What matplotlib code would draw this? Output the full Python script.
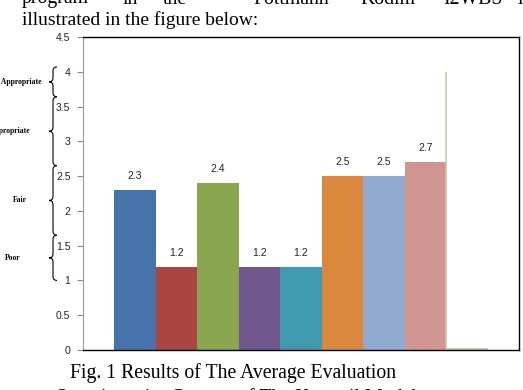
import matplotlib
matplotlib.use("Agg")
import matplotlib.pyplot as plt
from matplotlib.path import Path
from matplotlib.patches import PathPatch
from matplotlib.transforms import blended_transform_factory

# data
averages = [2.3, 1.2, 2.4, 1.2, 1.2, 2.5, 2.5, 2.7, 0.03]
bar_labels = ['2.3', '1.2', '2.4', '1.2', '1.2', '2.5', '2.5', '2.7', '']
bar_colors = ['#4674AA', '#A94543', '#8AA64E', '#6F578E', '#4199AF',
              '#DA883E', '#91A8CF', '#D09491', '#C6CBA5']
yticks = [0, 0.5, 1, 1.5, 2, 2.5, 3, 3.5, 4, 4.5]
ytick_labels = ['0', '0.5', '1', '1.5', '2', '2.5', '3', '3.5', '4', '4.5']

# criteria braces on the left: (top, bottom, label)
criteria = [(4.07, 3.64, 'Very Appropriate'),
            (3.64, 2.65, 'Appropriate'),
            (2.65, 1.65, 'Fair'),
            (1.65, 1.0, 'Poor')]
label_right_px = [41, 31, 27, 21]

W, H = 523, 390
fig = plt.figure(figsize=(W / 100, H / 100), dpi=100)
ax = fig.add_axes([83 / W, 40 / H, 436 / W, 313 / H])

x = list(range(len(averages)))
ax.bar(x, averages, width=1.0, color=bar_colors)
# thin stray line at the left of the last bar
ax.vlines(x[-1] - 0.5, 0, 4.0, color='#C6CBA5', lw=1.2)

for xi, v, lab in zip(x, averages, bar_labels):
    if lab:
        ax.annotate(lab, (xi, v), xytext=(0, 10), textcoords='offset points',
                    ha='center', va='center', fontsize=7.5, color='#222222',
                    family='Liberation Sans')

ax.set_xlim(-1.25, 9.25)
ax.set_ylim(0, 4.5)
ax.set_yticks(yticks)
ax.set_yticklabels(ytick_labels, fontsize=7.5, family='Liberation Sans', color='#222222')
ax.set_xticks([])
ax.tick_params(axis='y', length=4, width=0.8, color='#888888', pad=5)
ax.spines['left'].set_color('#999999')
for s in ['top', 'right', 'bottom']:
    ax.spines[s].set_color('black')
    ax.spines[s].set_linewidth(1.0)

# curly braces, x in figure fraction, y in data units
tr = blended_transform_factory(fig.transFigure, ax.transData)


def brace(top, bot, xb=53 / W, dx=4 / W):
    mid = (top + bot) / 2
    h = 0.06
    verts = [(xb + dx, top), (xb, top), (xb, top - h),
             (xb, mid + h), (xb, mid), (xb - dx, mid),
             (xb, mid), (xb, mid - h),
             (xb, bot + h), (xb, bot), (xb + dx, bot)]
    codes = [Path.MOVETO, Path.CURVE3, Path.CURVE3,
             Path.LINETO, Path.CURVE3, Path.CURVE3,
             Path.CURVE3, Path.CURVE3,
             Path.LINETO, Path.CURVE3, Path.CURVE3]
    fig.add_artist(PathPatch(Path(verts, codes), transform=tr, fill=False,
                             lw=0.8, color='black', clip_on=False))


for (top, bot, lab), rx in zip(criteria, label_right_px):
    brace(top, bot)
    fig.text(rx / W, (top + bot) / 2, lab, transform=tr, ha='right', va='center',
             fontsize=5.5, family='Liberation Serif', weight='bold')

# surrounding page text (cropped by the edges as in the original page)
serif = 'Liberation Serif'
top_words = ['program', 'in', 'the', 'Pottmann', 'Kodim', 'I2WBS', 'is']
top_word_x = [22, 123, 163, 253, 360, 443, 518]
for wd, wx in zip(top_words, top_word_x):
    fig.text(wx / W, 1 + 1 / H, wd, ha='left', va='center', fontsize=14.2, family=serif)
fig.text(22 / W, 1 - 20 / H, 'illustrated in the figure below:', ha='left', va='center',
         fontsize=14, family=serif)
fig.text(70 / W, 1 - 373 / H, 'Fig. 1 Results of The Average Evaluation', ha='left',
         va='center', fontsize=14.2, family=serif)
fig.text(55 / W, 1 - 398 / H, 'Questionnaire Content of The Kuesstil Model', ha='left',
         va='center', fontsize=14.2, family=serif)

fig.savefig('out.png', dpi=100)
